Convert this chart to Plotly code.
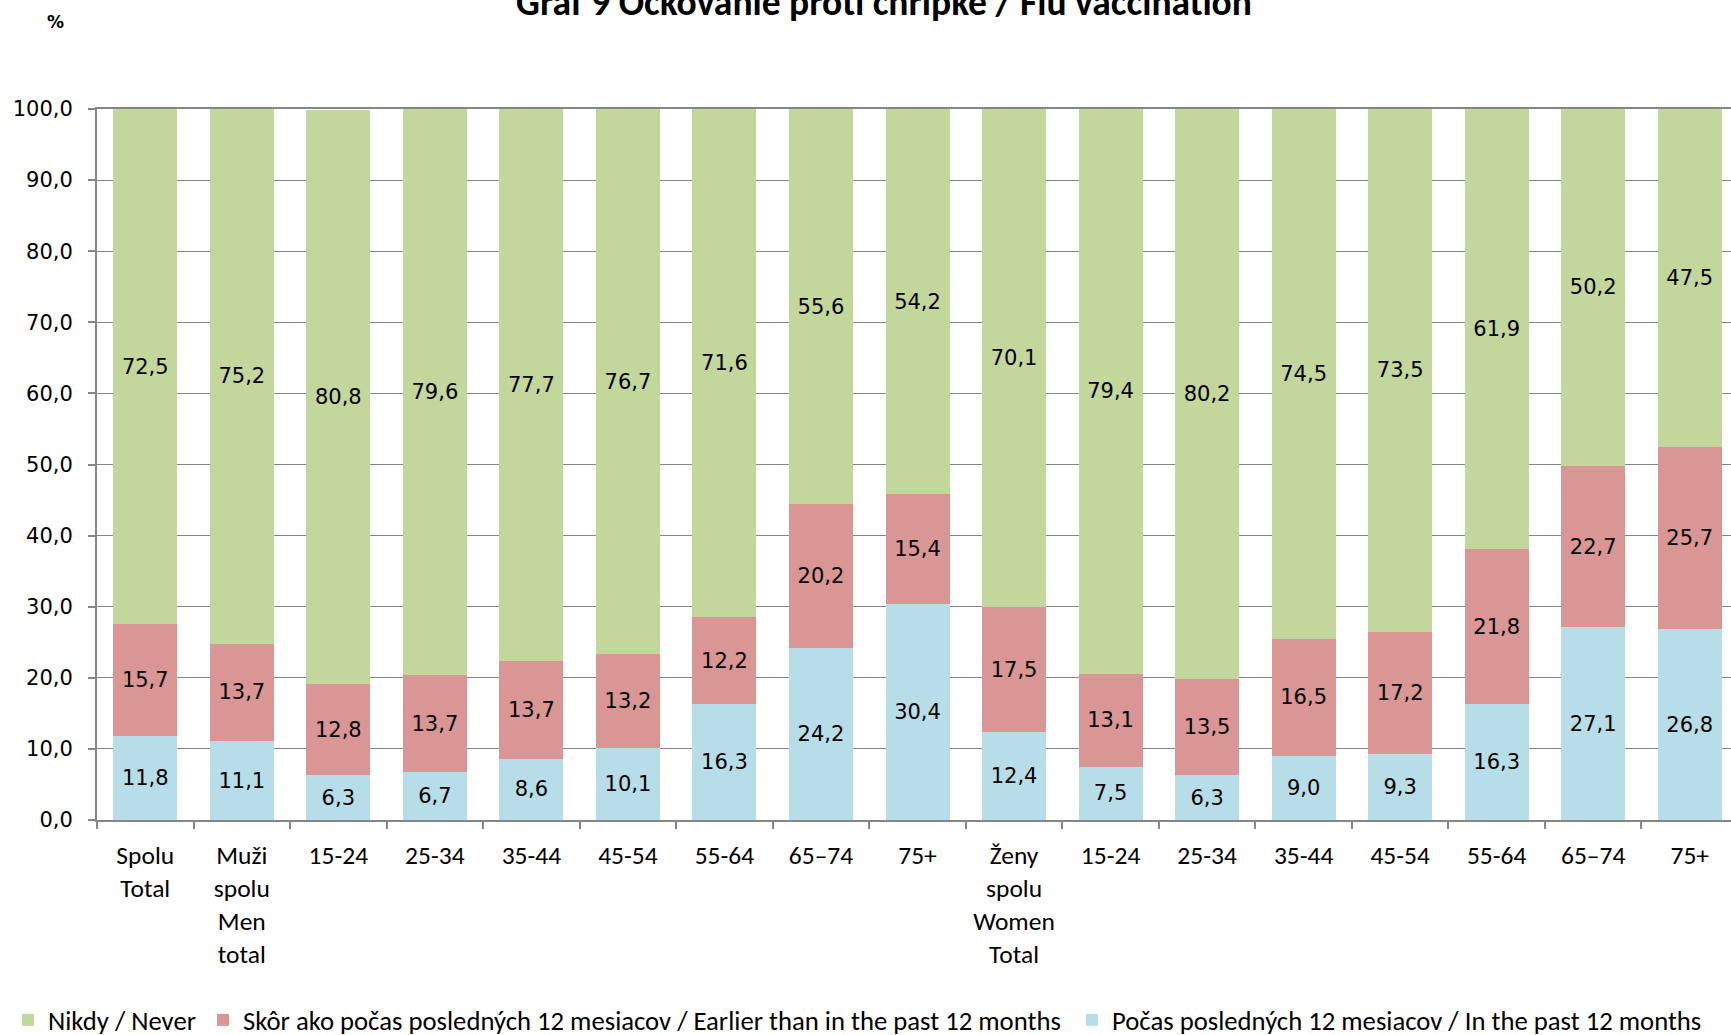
import plotly.graph_objects as go

categories = ["Spolu<br>Total", "Muži<br>spolu<br>Men<br>total", "15-24", "25-34", "35-44", "45-54",
              "55-64", "65–74", "75+", "Ženy<br>spolu<br>Women<br>Total", "15-24", "25-34", "35-44",
              "45-54", "55-64", "65–74", "75+"]
in_past_12 = [11.8, 11.1, 6.3, 6.7, 8.6, 10.1, 16.3, 24.2, 30.4, 12.4, 7.5, 6.3, 9.0, 9.3, 16.3, 27.1, 26.8]
earlier = [15.7, 13.7, 12.8, 13.7, 13.7, 13.2, 12.2, 20.2, 15.4, 17.5, 13.1, 13.5, 16.5, 17.2, 21.8, 22.7, 25.7]
never = [72.5, 75.2, 80.8, 79.6, 77.7, 76.7, 71.6, 55.6, 54.2, 70.1, 79.4, 80.2, 74.5, 73.5, 61.9, 50.2, 47.5]
y_ticks = [0, 10, 20, 30, 40, 50, 60, 70, 80, 90, 100]

x = list(range(len(categories)))

W, H = 1731, 1035
ML, MT, MB = 97, 109, 215
spacing = 96.53
x_right = -0.5 + (W - ML) / spacing

label_font = dict(family="DejaVu Sans, Verdana, sans-serif", size=21, color="black")
cal_font = "Carlito, Calibri, Lato, sans-serif"
grid_col = "#868686"

series = [
    ("Počas posledných 12 mesiacov / In the past 12 months", in_past_12, "#B7DEE8", "legend3"),
    ("Skôr ako počas posledných 12 mesiacov / Earlier than in the past 12 months", earlier, "#D99694", "legend2"),
    ("Nikdy / Never", never, "#C3D69B", "legend"),
]

fig = go.Figure()
for name, vals, col, leg in series:
    fig.add_trace(go.Bar(
        x=x, y=vals, name=name, legend=leg, marker=dict(color=col, line=dict(width=0)),
        texttemplate="%{y:.1f}", textposition="inside", insidetextanchor="middle",
        textangle=0, textfont=label_font, constraintext="none",
    ))

def legend_at(px):
    return dict(orientation="h",
                xref="container", x=px / W, xanchor="left",
                yref="container", y=1 - 1020 / H, yanchor="middle",
                font=dict(family=cal_font, size=26.7, color="black"),
                itemwidth=30, bgcolor="rgba(0,0,0,0)")

fig.update_layout(
    width=W, height=H,
    barmode="stack", bargap=0.337,
    separators=", ",
    plot_bgcolor="white", paper_bgcolor="white",
    margin=dict(l=ML, r=0, t=MT, b=MB, pad=0),
    title=dict(text="<b>Graf 9 Očkovanie proti chrípke / Flu vaccination</b>",
               font=dict(family=cal_font, size=37.5, color="black"),
               xref="container", x=884 / W, xanchor="center",
               yref="container", y=1 - 1.8 / H, yanchor="middle"),
    legend=legend_at(8),
    legend2=legend_at(203),
    legend3=legend_at(1072),
    xaxis=dict(range=[-0.5, x_right], tickmode="array", tickvals=x, ticktext=categories,
               ticks="", showgrid=False, zeroline=False,
               showline=True, linecolor=grid_col, linewidth=2, mirror=True,
               ticklabelstandoff=11,
               tickfont=dict(family=cal_font, size=25.5, color="black"),
               minor=dict(ticks="outside", tick0=-0.5, dtick=1, ticklen=7,
                          tickcolor=grid_col, tickwidth=2, showgrid=False)),
    yaxis=dict(range=[0, 100], tickmode="array", tickvals=y_ticks, tickformat=".1f",
               showgrid=True, gridcolor=grid_col, gridwidth=1,
               showline=True, linecolor=grid_col, linewidth=2,
               ticks="outside", ticklen=7, tickcolor=grid_col, tickwidth=2,
               zeroline=False, ticklabelstandoff=11,
               tickfont=dict(family="DejaVu Sans, Verdana, sans-serif", size=21, color="black")),
    annotations=[dict(text="<b>%</b>", xref="paper", yref="paper",
                      x=(55 - ML) / (W - ML), y=(820 - 22) / (820 - MT),
                      xanchor="center", yanchor="middle", showarrow=False,
                      font=dict(family="DejaVu Sans, Verdana, sans-serif", size=17, color="black"))],
    showlegend=True,
)

fig.write_html("out.html", config={"displayModeBar": False},
               post_script="document.body.style.margin='0';document.documentElement.style.overflow='hidden';")
